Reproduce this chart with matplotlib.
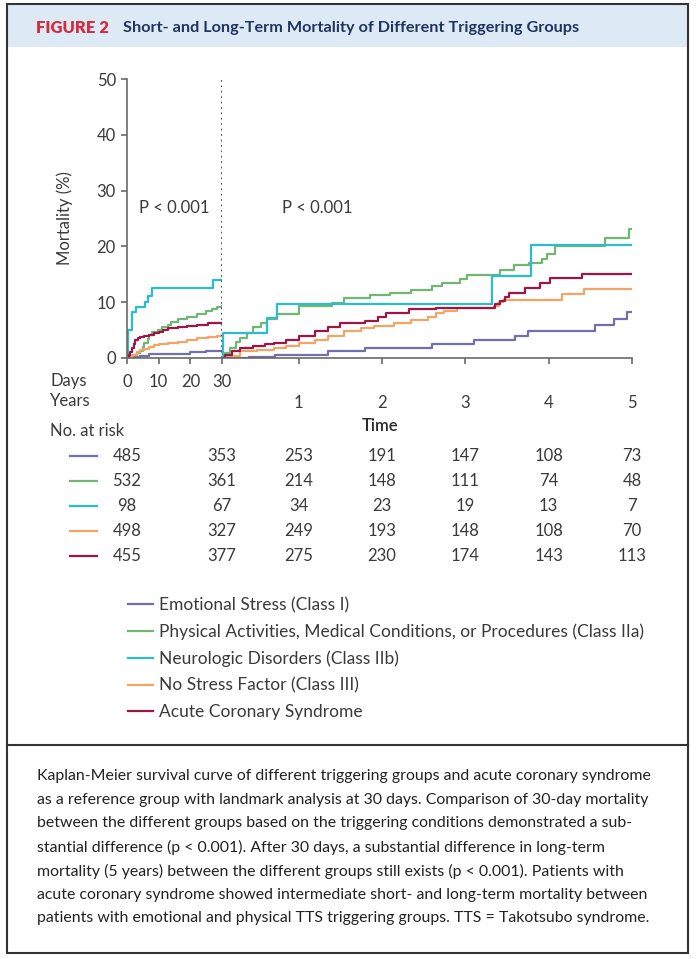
import numpy as np
import matplotlib
matplotlib.use('Agg')
import matplotlib.pyplot as plt
from matplotlib.lines import Line2D
from matplotlib.patches import Rectangle
from matplotlib.transforms import blended_transform_factory

# ---- data ----
groups = ['Emotional Stress (Class I)',
          'Physical Activities, Medical Conditions, or Procedures (Class IIa)',
          'Neurologic Disorders (Class IIb)',
          'No Stress Factor (Class III)',
          'Acute Coronary Syndrome']
colors = ['#7170ad', '#72b673', '#2bbdcd', '#f3a566', '#9c1747']

# first 30 days (days, mortality %)
short_days = [
    [0, 2, 4, 7, 20, 25, 30],
    [0, 1, 2, 3, 4, 5, 5.5, 6.5, 7, 8, 9.8, 11, 12.9, 14, 16, 19, 22, 25, 27, 28.5, 30],
    [0, 0.4, 1.5, 2.9, 5.7, 6.7, 7.8, 27.3, 30],
    [0, 1.7, 3, 4.1, 5.5, 7, 8.5, 10, 13, 16, 19, 22, 25.5, 28.5, 30],
    [0, 0.5, 1, 1.6, 2.1, 2.6, 3.5, 4.1, 5.5, 7, 8.5, 10, 11.5, 13, 16, 19, 22, 25.5, 30],
]
short_mort = [
    [0, 0.2, 0.4, 0.8, 1.0, 1.2, 1.2],
    [0, 0.3, 0.6, 0.9, 1.3, 2.0, 2.6, 3.4, 4.1, 4.6, 5.1, 5.6, 6.0, 6.4, 6.9, 7.4, 7.9, 8.4, 8.8, 9.2, 9.3],
    [0, 5.0, 8.2, 9.2, 10.0, 11.2, 12.5, 13.9, 13.9],
    [0, 0.5, 1.0, 1.4, 1.7, 2.0, 2.3, 2.5, 2.7, 2.9, 3.2, 3.5, 3.7, 3.9, 3.9],
    [0, 0.5, 1.1, 1.8, 2.5, 3.2, 3.5, 3.8, 3.9, 4.1, 4.4, 4.7, 5.0, 5.3, 5.6, 5.7, 5.9, 6.2, 6.2],
]

# landmark from 30 days to 5 years (years, mortality %)
long_years = [
    [0.082, 0.4, 0.72, 1.35, 1.8, 2.6, 3.1, 3.6, 3.75, 4.56, 4.78, 4.94, 5.0],
    [0.082, 0.12, 0.18, 0.25, 0.3, 0.38, 0.45, 0.55, 0.62, 0.74, 1.0, 1.4, 1.55, 1.86, 2.1, 2.35,
     2.6, 2.72, 2.94, 3.02, 3.42, 3.58, 3.76, 3.92, 3.98, 4.08, 4.68, 4.97, 5.0],
    [0.082, 0.1, 0.62, 0.74, 3.32, 3.79, 5.0],
    [0.082, 0.12, 0.3, 0.5, 0.7, 0.85, 1.0, 1.2, 1.35, 1.55, 1.75, 1.9, 2.15, 2.35, 2.55, 2.65,
     2.75, 2.9, 3.35, 3.4, 3.45, 4.16, 4.42, 5.0],
    [0.082, 0.12, 0.2, 0.3, 0.45, 0.6, 0.7, 0.85, 1.0, 1.2, 1.35, 1.5, 1.8, 1.95, 2.05, 2.33, 2.65,
     3.36, 3.42, 3.48, 3.52, 3.72, 3.9, 4.02, 4.4, 5.0],
]
long_mort = [
    [0, 0.2, 0.6, 1.2, 1.8, 2.5, 3.3, 4.0, 4.8, 6.0, 7.0, 8.2, 8.2],
    [0, 0.9, 1.8, 2.8, 3.5, 4.5, 5.5, 6.3, 7.0, 7.8, 9.3, 9.9, 10.7, 11.3, 11.7, 12.2,
     12.9, 13.5, 14.2, 14.9, 15.8, 16.7, 17.0, 17.8, 18.7, 20.0, 21.5, 23.1, 23.1],
    [0, 4.5, 7.2, 9.6, 14.7, 20.3, 20.3],
    [0, 0.4, 1.2, 1.5, 1.8, 2.2, 2.7, 3.3, 3.9, 4.8, 5.3, 5.7, 6.2, 6.8, 7.3, 8.0,
     8.5, 8.9, 9.3, 10.0, 10.4, 11.4, 12.3, 12.3],
    [0, 0.5, 1.2, 1.8, 2.2, 2.5, 2.7, 3.3, 4.0, 4.8, 5.5, 6.3, 6.6, 7.3, 8.1, 8.7, 9.0,
     9.6, 10.3, 11.0, 11.7, 12.6, 13.5, 14.4, 15.0, 15.0],
]

at_risk = [
    [485, 353, 253, 191, 147, 108, 73],
    [532, 361, 214, 148, 111, 74, 48],
    [98, 67, 34, 23, 19, 13, 7],
    [498, 327, 249, 193, 148, 108, 70],
    [455, 377, 275, 230, 174, 143, 113],
]
day_ticks = [0, 10, 20, 30]
year_ticks = [1, 2, 3, 4, 5]
y_ticks = [0, 10, 20, 30, 40, 50]

caption = [
    'Kaplan-Meier survival curve of different triggering groups and acute coronary syndrome',
    'as a reference group with landmark analysis at 30 days. Comparison of 30-day mortality',
    'between the different groups based on the triggering conditions demonstrated a sub-',
    'stantial difference (p < 0.001). After 30 days, a substantial difference in long-term',
    'mortality (5 years) between the different groups still exists (p < 0.001). Patients with',
    'acute coronary syndrome showed intermediate short- and long-term mortality between',
    'patients with emotional and physical TTS triggering groups. TTS = Takotsubo syndrome.',
]

# ---- layout helpers (pixel -> figure fraction) ----
W, H = 700, 959
def fx(x):
    return x / W
def fy(y):
    return 1 - y / H

plt.rcParams['font.family'] = ['Lato', 'DejaVu Sans']
txt = '#3a3a3a'
axc = '#6a6a6a'

fig = plt.figure(figsize=(7, 9.59), dpi=100)

# frame, header band, separator
fig.add_artist(Rectangle((fx(8), fy(47)), fx(679), 42 / H, transform=fig.transFigure,
                         facecolor='#dde9f5', edgecolor='none'))
fig.add_artist(Rectangle((fx(7), fy(953)), fx(681), 949 / H, transform=fig.transFigure,
                         facecolor='none', edgecolor='#333333', lw=1.5))
fig.add_artist(Line2D([fx(7), fx(688)], [fy(745), fy(745)], transform=fig.transFigure,
                      color='#333333', lw=1.5))
fig.text(fx(36), fy(28), 'FIGURE 2', color='#d42e3e', fontsize=12, fontweight='heavy',
         va='center', ha='left')
fig.text(fx(123), fy(28), 'Short- and Long-Term Mortality of Different Triggering Groups',
         color='#1e3560', fontsize=11.7, fontweight='bold', va='center', ha='left')

# ---- axes: 0-30 days and landmark 30 days - 5 years ----
bottom, top = fy(358), fy(79)
ax1 = fig.add_axes([fx(127), bottom, fx(222) - fx(127), top - bottom])
ax2 = fig.add_axes([fx(222), bottom, fx(632) - fx(222), top - bottom], sharey=ax1)

for i in range(5):
    ax1.step(short_days[i], short_mort[i], where='post', color=colors[i], lw=1.6)
    ax2.step(long_years[i], long_mort[i], where='post', color=colors[i], lw=1.6)

ax1.set_xlim(0, 30)
ax2.set_xlim(30 / 365.25, 5)
ax1.set_ylim(0, 50)
ax1.axvline(30, color='#444444', ls=(0, (1, 2)), lw=1.3)

for ax in (ax1, ax2):
    for s in ('top', 'right', 'left'):
        ax.spines[s].set_visible(False)
    ax.spines['bottom'].set_color(axc)
    ax.spines['bottom'].set_linewidth(1.2)
    ax.tick_params(colors=axc, labelcolor=txt, labelsize=12, length=4.5, width=1.2)
ax1.spines['left'].set_visible(True)
ax1.spines['left'].set_color(axc)
ax1.spines['left'].set_linewidth(1.2)
ax1.set_yticks(y_ticks)
ax1.set_xticks(day_ticks)
ax1.tick_params(axis='x', pad=7)
ax2.set_xticks(year_ticks)
ax2.tick_params(axis='x', pad=22)
ax2.tick_params(axis='y', left=False, labelleft=False)
ax1.set_ylabel('Mortality (%)', fontsize=12, color=txt)
ax1.yaxis.set_label_coords((73 - 127) / 95, 0.5)

ax1.text(14.8, 26.8, 'P < 0.001', fontsize=12, color=txt, ha='center', va='center')
ax2.text(1.23, 26.8, 'P < 0.001', fontsize=12, color=txt, ha='center', va='center')

fig.text(fx(50), fy(381), 'Days', fontsize=12, color=txt, va='center')
fig.text(fx(50), fy(401), 'Years', fontsize=12, color=txt, va='center')
fig.text(fx(380), fy(426), 'Time', fontsize=12, color='#2a2a2a', fontweight='semibold',
         ha='center', va='center')

# ---- number at risk table ----
fig.text(fx(50), fy(431), 'No. at risk', fontsize=12, color=txt, va='center')
t1 = blended_transform_factory(ax1.transData, fig.transFigure)
t2 = blended_transform_factory(ax2.transData, fig.transFigure)
row_y = [456, 481, 506, 531, 556]
for i in range(5):
    y = fy(row_y[i])
    fig.add_artist(Line2D([fx(70), fx(97)], [y, y], transform=fig.transFigure,
                          color=colors[i], lw=1.6))
    ax1.text(0, y, str(at_risk[i][0]), transform=t1, fontsize=12, color=txt,
             ha='center', va='center')
    ax1.text(30, y, str(at_risk[i][1]), transform=t1, fontsize=12, color=txt,
             ha='center', va='center')
    for j, yr in enumerate(year_ticks):
        ax2.text(yr, y, str(at_risk[i][j + 2]), transform=t2, fontsize=12, color=txt,
                 ha='center', va='center')

# ---- legend ----
handles = [Line2D([], [], color=c, lw=1.6) for c in colors]
fig.legend(handles, groups, loc='upper left', bbox_to_anchor=(fx(128), fy(597)),
           frameon=False, fontsize=12.5, labelcolor=txt, handlelength=1.45,
           handletextpad=0.35, labelspacing=0.6, borderaxespad=0, borderpad=0)

# ---- caption ----
cap_y = [776, 800, 823, 847, 871, 895, 918]
for line, y in zip(caption, cap_y):
    fig.text(fx(37), fy(y), line, fontsize=11.4, color='#222222', va='center', ha='left')

fig.savefig('out.png', dpi=100)
